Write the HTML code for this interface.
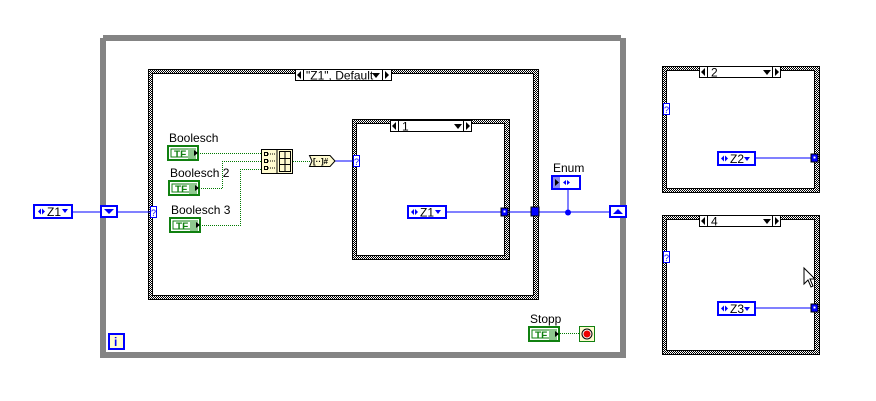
<!DOCTYPE html>
<html><head><meta charset="utf-8"><style>
html,body{margin:0;padding:0;background:#fff;}
svg{display:block;}
text{font-family:"Liberation Sans",sans-serif;}
</style></head><body>
<svg width="876" height="401" viewBox="0 0 876 401" xmlns="http://www.w3.org/2000/svg">
<defs>
<pattern id="chk" width="2" height="2" patternUnits="userSpaceOnUse">
<rect width="2" height="2" fill="#fff"/><rect width="1" height="1" fill="#000"/><rect x="1" y="1" width="1" height="1" fill="#000"/>
</pattern>
<g id="tf">
<rect x="168" y="146" width="30" height="14" fill="#fff" stroke="#108010" stroke-width="2"/>
<rect x="171" y="149" width="24" height="8" fill="none" stroke="#108010"/>
<text x="174" y="157.5" font-size="10" font-weight="bold" fill="#108010">TF</text>
<rect x="188" y="148" width="8" height="11" fill="#8fc88f"/><polygon points="194,150 198,153 194,156" fill="#000"/>
</g>
</defs>
<rect width="876" height="401" fill="#fff"/>

<!-- While loop -->
<rect x="100" y="38" width="6" height="319" fill="#848484"/>
<rect x="103" y="35" width="518" height="6" fill="#848484"/>
<rect x="620" y="38" width="6" height="319" fill="#848484"/>
<rect x="100" y="352" width="526" height="6" fill="#848484"/>

<!-- Outer case structure -->
<rect x="148" y="69" width="391" height="231" fill="url(#chk)"/>
<rect x="153" y="74" width="380" height="221" fill="#fff"/>
<rect x="148.5" y="69.5" width="390" height="230" fill="none" stroke="#000"/>
<rect x="152.5" y="73.5" width="381" height="222" fill="none" stroke="#000"/>
<rect x="295.5" y="69.5" width="96" height="11" fill="#fff" stroke="#000"/>
<line x1="303.5" y1="69" x2="303.5" y2="81" stroke="#000"/>
<line x1="382.5" y1="69" x2="382.5" y2="81" stroke="#000"/>
<polygon points="297,75 301,71 301,79" fill="#000"/>
<polygon points="389,75 385,71 385,79" fill="#000"/>
<polygon points="372,73 380,73 376,78" fill="#000"/>
<text x="306" y="79.5" font-size="12">"Z1", Default</text>

<!-- inner case -->
<rect x="352" y="119" width="158" height="141" fill="url(#chk)"/>
<rect x="357" y="124" width="147" height="131" fill="#fff"/>
<rect x="352.5" y="119.5" width="157" height="140" fill="none" stroke="#000"/>
<rect x="356.5" y="123.5" width="148" height="132" fill="none" stroke="#000"/>
<rect x="390.5" y="120.5" width="81" height="11" fill="#fff" stroke="#000"/>
<line x1="398.5" y1="120" x2="398.5" y2="132" stroke="#000"/>
<line x1="463.5" y1="120" x2="463.5" y2="132" stroke="#000"/>
<polygon points="392,126 396,122 396,130" fill="#000"/>
<polygon points="470,126 466,122 466,130" fill="#000"/>
<polygon points="454,124 462,124 458,129" fill="#000"/>
<text x="402" y="130.5" font-size="12">1</text>

<!-- right panel 1 -->
<rect x="662" y="66" width="158" height="127" fill="url(#chk)"/>
<rect x="667" y="71" width="147" height="117" fill="#fff"/>
<rect x="662.5" y="66.5" width="157" height="126" fill="none" stroke="#000"/>
<rect x="666.5" y="70.5" width="148" height="118" fill="none" stroke="#000"/>
<rect x="699.5" y="66.5" width="81" height="11" fill="#fff" stroke="#000"/>
<line x1="707.5" y1="66" x2="707.5" y2="78" stroke="#000"/>
<line x1="772.5" y1="66" x2="772.5" y2="78" stroke="#000"/>
<polygon points="701,72 705,68 705,76" fill="#000"/>
<polygon points="779,72 775,68 775,76" fill="#000"/>
<polygon points="763,70 771,70 767,75" fill="#000"/>
<text x="711" y="76.5" font-size="12">2</text>
<rect x="663.5" y="103.5" width="6" height="11" fill="#fff" stroke="#00f"/>
<text x="664" y="113" font-size="9" fill="#00f">?</text>

<!-- right panel 2 -->
<rect x="662" y="215" width="158" height="140" fill="url(#chk)"/>
<rect x="667" y="220" width="147" height="130" fill="#fff"/>
<rect x="662.5" y="215.5" width="157" height="139" fill="none" stroke="#000"/>
<rect x="666.5" y="219.5" width="148" height="131" fill="none" stroke="#000"/>
<rect x="699.5" y="215.5" width="81" height="11" fill="#fff" stroke="#000"/>
<line x1="707.5" y1="215" x2="707.5" y2="227" stroke="#000"/>
<line x1="772.5" y1="215" x2="772.5" y2="227" stroke="#000"/>
<polygon points="701,221 705,217 705,225" fill="#000"/>
<polygon points="779,221 775,217 775,225" fill="#000"/>
<polygon points="763,219 771,219 767,224" fill="#000"/>
<text x="711" y="225.5" font-size="12">4</text>
<rect x="663.5" y="251.5" width="6" height="11" fill="#fff" stroke="#00f"/>
<text x="664" y="261" font-size="9" fill="#00f">?</text>

<!-- wires blue -->
<line x1="73" y1="212" x2="151" y2="212" stroke="#00f"/>
<line x1="335" y1="161" x2="353" y2="161" stroke="#00f"/>
<line x1="446" y1="212" x2="612" y2="212" stroke="#00f"/>
<line x1="568" y1="190" x2="568" y2="212" stroke="#00f"/>
<circle cx="568" cy="212.5" r="3" fill="#00f"/>
<line x1="755" y1="158" x2="812" y2="158" stroke="#00f"/>
<line x1="755" y1="308" x2="812" y2="308" stroke="#00f"/>

<!-- green dotted wires -->
<g stroke="#007a00" stroke-dasharray="1,1" fill="none">
<path d="M200 153.5 H265"/>
<path d="M201 188.5 H222.5 V161.5 H265"/>
<path d="M202 225.5 H240.5 V169.5 H265"/>
<path d="M293 161.5 H310"/>
<path d="M560 333.5 H579"/>
</g>

<!-- Z1 control left -->
<rect x="34" y="205" width="38" height="13" fill="#fff" stroke="#00f" stroke-width="2"/>
<polygon points="38,211.5 41,208.5 41,214.5" fill="#00f"/><polygon points="45,211.5 42,208.5 42,214.5" fill="#00f"/>
<text x="47" y="216" font-size="12">Z1</text>
<polygon points="62,209 68,209 65,213" fill="#00f"/>

<!-- shift registers -->
<rect x="101" y="206" width="16" height="11" fill="#fff" stroke="#00f" stroke-width="2"/>
<polygon points="104,209 114,209 109,214" fill="#00f"/>
<rect x="610" y="206" width="16" height="11" fill="#fff" stroke="#00f" stroke-width="2"/>
<polygon points="613,214 623,214 618,209" fill="#00f"/>

<!-- ? selector terminals -->
<rect x="150.5" y="206.5" width="6" height="11" fill="#fff" stroke="#00f"/>
<text x="151" y="216" font-size="9" fill="#00f">?</text>
<rect x="353.5" y="155.5" width="6" height="11" fill="#fff" stroke="#00f"/>
<text x="354" y="165" font-size="9" fill="#00f">?</text>

<!-- labels -->
<g font-size="12">
<text x="169" y="142">Boolesch</text>
<text x="170" y="177">Boolesch 2</text>
<text x="171" y="214">Boolesch 3</text>
<text x="530" y="323">Stopp</text>
<text x="553" y="172">Enum</text>
</g>
<use href="#tf"/>
<use href="#tf" transform="translate(1,35)"/>
<use href="#tf" transform="translate(2,72)"/>
<use href="#tf" transform="translate(361,181)"/>

<!-- stop terminal -->
<rect x="579.5" y="326.5" width="15" height="15" fill="#fffbd0" stroke="#108010"/>
<circle cx="587" cy="334" r="5" fill="#fff" stroke="#000"/>
<circle cx="587" cy="334" r="3.5" fill="#e00"/>

<!-- iteration i -->
<rect x="109" y="334" width="15" height="15" fill="#fffbd0" stroke="#00f" stroke-width="2"/>
<text x="114" y="346" font-size="12" font-weight="bold" fill="#00f">i</text>

<!-- build array node -->
<rect x="261.5" y="149.5" width="31" height="24" fill="#fffbd0" stroke="#000"/>
<g fill="none" stroke="#000">
<rect x="264.5" y="152.5" width="3" height="3"/><rect x="264.5" y="159.5" width="3" height="3"/><rect x="264.5" y="166.5" width="3" height="3"/>
<rect x="279.5" y="151.5" width="11" height="20"/>
<line x1="285" y1="152" x2="285" y2="171"/>
<line x1="279" y1="158.5" x2="291" y2="158.5"/><line x1="279" y1="164.5" x2="291" y2="164.5"/>
<path d="M268 154 H276 M268 161 H276 M268 168 H276" stroke-dasharray="1,1"/>
<path d="M277 149 V174"/>
</g>

<!-- convert node -->
<path d="M309.5 155.5 H330 L335 161 L330 166.5 H309.5 L312 161 Z" fill="#fffbd0" stroke="#000"/>
<text x="313" y="164" font-size="8" font-weight="bold">[··]#</text>

<!-- Z1 constant inner -->
<rect x="408" y="206" width="38" height="12" fill="#fff" stroke="#00f" stroke-width="2"/>
<polygon points="411,212 414,209 414,215" fill="#00f"/><polygon points="418,212 415,209 415,215" fill="#00f"/>
<text x="420" y="216.5" font-size="12">Z1</text>
<polygon points="435,210 441,210 438,214" fill="#00f"/>
<rect x="501" y="208" width="7" height="8" fill="#00f" stroke="#000"/><rect x="503.5" y="210.5" width="2" height="2" fill="#fff"/>
<rect x="531" y="207" width="8" height="9" fill="#00f" stroke="#000"/>

<!-- Enum -->
<rect x="552" y="176" width="28" height="13" fill="#fff" stroke="#00f" stroke-width="2"/>
<rect x="553" y="177" width="7" height="11" fill="#8a8af0"/>
<polygon points="555,179 559,182.5 555,186" fill="#000"/>
<polygon points="563,182.5 566,180 566,185" fill="#00f"/><polygon points="570,182.5 567,180 567,185" fill="#00f"/>

<!-- Z2 / Z3 -->
<rect x="718" y="152" width="37" height="13" fill="#fff" stroke="#00f" stroke-width="2"/>
<polygon points="721,158.5 724,155.5 724,161.5" fill="#00f"/><polygon points="728,158.5 725,155.5 725,161.5" fill="#00f"/>
<text x="730" y="163" font-size="12">Z2</text>
<polygon points="744,157 750,157 747,161" fill="#00f"/>
<rect x="811" y="154" width="7" height="8" fill="#00f" stroke="#000"/><rect x="813.5" y="156.5" width="2" height="2" fill="#fff"/>

<rect x="718" y="302" width="37" height="13" fill="#fff" stroke="#00f" stroke-width="2"/>
<polygon points="721,308.5 724,305.5 724,311.5" fill="#00f"/><polygon points="728,308.5 725,305.5 725,311.5" fill="#00f"/>
<text x="730" y="313" font-size="12">Z3</text>
<polygon points="744,307 750,307 747,311" fill="#00f"/>
<rect x="811" y="304" width="7" height="8" fill="#00f" stroke="#000"/><rect x="813.5" y="306.5" width="2" height="2" fill="#fff"/>

<!-- cursor -->
<path d="M804 268 V284 L808 280 L811 287 L813 286 L810 279 L815 279 Z" fill="#fff" stroke="#000"/>
</svg>
</body></html>
